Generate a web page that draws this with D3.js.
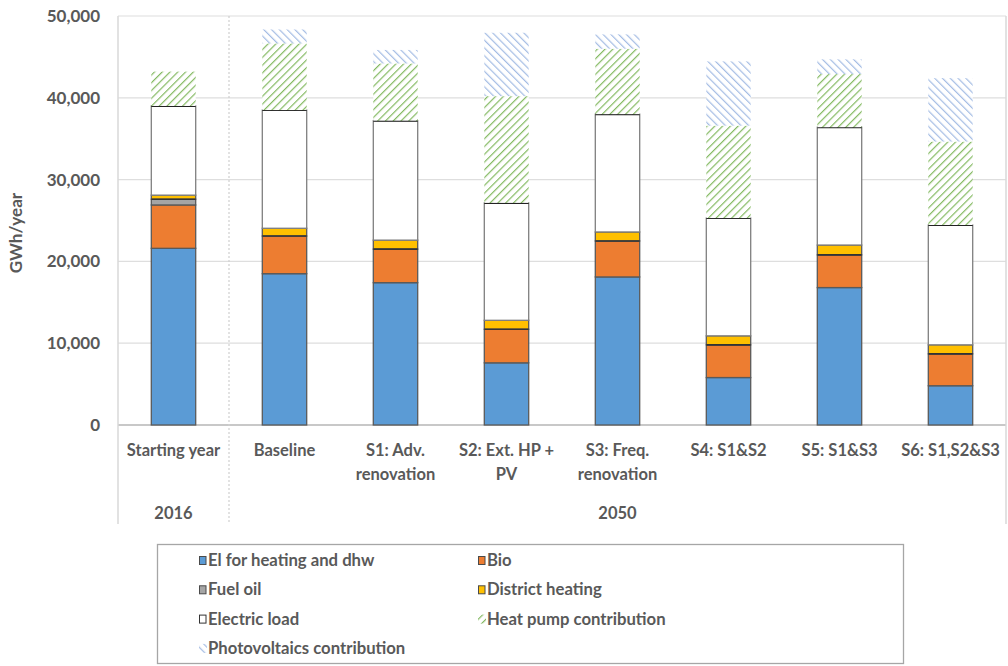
<!DOCTYPE html>
<html>
<head>
<meta charset="utf-8">
<script src="https://cdn.jsdelivr.net/npm/d3@7"></script>
<style>
  html, body { margin: 0; padding: 0; background: #fff; }
  svg { display: block; font-family: Lato, "Open Sans", sans-serif; font-weight: bold; }
</style>
</head>
<body>
<svg id="viz" width="1008" height="666"></svg>
<script>
// categories: [label lines, group]
const categories = [
  ['Starting year'], ['Baseline'], ['S1: Adv.', 'renovation'], ['S2: Ext. HP +', 'PV'],
  ['S3: Freq.', 'renovation'], ['S4: S1&S2'], ['S5: S1&S3'], ['S6: S1,S2&S3']
];
const groups = [{ name: '2016', from: 0, to: 0 }, { name: '2050', from: 1, to: 7 }];

// series values in GWh/year, one per category
const elHeating   = [21600, 18500, 17400, 7600, 18100, 5800, 16800, 4800];
const bio         = [5300, 4600, 4100, 4100, 4400, 4000, 4000, 3900];
const fuelOil     = [700, 0, 0, 0, 0, 0, 0, 0];
const district    = [500, 950, 1100, 1100, 1100, 1100, 1200, 1100];
const electric    = [10900, 14450, 14600, 14350, 14400, 14400, 14400, 14650];
const heatPump    = [4200, 8150, 7000, 13050, 8000, 11300, 6500, 10200];
const photovolt   = [0, 1700, 1650, 7750, 1750, 7850, 1800, 7750];

const yTicks = [0, 10000, 20000, 30000, 40000, 50000];

const series = [
  { name: 'El for heating and dhw', values: elHeating, fill: '#5B9BD5' },
  { name: 'Bio', values: bio, fill: '#ED7D31' },
  { name: 'Fuel oil', values: fuelOil, fill: '#A5A5A5' },
  { name: 'District heating', values: district, fill: '#FFC000' },
  { name: 'Electric load', values: electric, fill: '#FFFFFF' },
  { name: 'Heat pump contribution', values: heatPump, fill: 'url(#hatchHP)', hatch: true },
  { name: 'Photovoltaics contribution', values: photovolt, fill: 'url(#hatchPV)', hatch: true }
];

const svg = d3.select('#viz');
const margin = { left: 118, right: 1006, top: 16, bottom: 425 };
const grey = '#595959';

// patterns
const defs = svg.append('defs');
function hatch(id, color, dir) {
  const p = defs.append('pattern')
    .attr('id', id)
    .attr('patternUnits', 'userSpaceOnUse')
    .attr('width', 5.5).attr('height', 5.5)
    .attr('patternTransform', `rotate(${dir})`);
  p.append('rect').attr('width', 5.5).attr('height', 5.5).attr('fill', '#fff');
  p.append('line')
    .attr('x1', 0).attr('y1', 0).attr('x2', 0).attr('y2', 5.5)
    .attr('stroke', color).attr('stroke-width', 2.4);
}
hatch('hatchHP', '#84BA62', 45);
hatch('hatchPV', '#A4BCE4', -45);

const x = d3.scaleBand()
  .domain(d3.range(categories.length))
  .range([margin.left, margin.right])
  .paddingInner(0.6).paddingOuter(0.3);

const y = d3.scaleLinear().domain([0, 50000]).range([margin.bottom, margin.top]);

// gridlines
svg.append('g')
  .selectAll('line')
  .data(yTicks)
  .join('line')
  .attr('x1', margin.left).attr('x2', margin.right)
  .attr('y1', (d) => y(d)).attr('y2', (d) => y(d))
  .attr('stroke', (d) => d === 0 ? '#c8c8c8' : '#dedede')
  .attr('stroke-width', (d) => d === 0 ? 2 : 1.2);

// frame lines down through the category area
const boundary = (i) => margin.left + i * (margin.right - margin.left) / categories.length;
svg.append('line')
  .attr('x1', margin.left).attr('x2', margin.left)
  .attr('y1', margin.top).attr('y2', 524)
  .attr('stroke', '#d9d9d9').attr('stroke-width', 1.5);
svg.append('line')
  .attr('x1', margin.right).attr('x2', margin.right)
  .attr('y1', margin.top).attr('y2', 524)
  .attr('stroke', '#d9d9d9').attr('stroke-width', 1.5);
svg.append('line')
  .attr('x1', boundary(1)).attr('x2', boundary(1))
  .attr('y1', margin.top).attr('y2', 524)
  .attr('stroke', '#cfcfcf').attr('stroke-width', 1.2)
  .attr('stroke-dasharray', '2,2');

// y axis labels
svg.append('g')
  .selectAll('text')
  .data(yTicks)
  .join('text')
  .attr('x', 100).attr('y', (d) => y(d) + 6)
  .attr('text-anchor', 'end')
  .attr('fill', grey)
  .attr('font-size', 17)
  .text((d) => d3.format(',')(d));

svg.append('text')
  .attr('transform', 'translate(22,233) rotate(-90)')
  .attr('text-anchor', 'middle')
  .attr('fill', grey)
  .attr('font-size', 17)
  .text('GWh/year');

// stacked bars
const stackData = categories.map((c, i) => {
  const row = { i };
  series.forEach((s, k) => { row[k] = s.values[i]; });
  return row;
});
const stacked = d3.stack().keys(series.map((s, k) => k))(stackData);

const layers = svg.append('g')
  .selectAll('g')
  .data(stacked)
  .join('g');

layers.each(function (layer) {
  const s = series[layer.key];
  const g = d3.select(this);
  const segs = layer.filter((d) => d[1] - d[0] > 0);
  g.selectAll('rect')
    .data(segs)
    .join('rect')
    .attr('x', (d) => x(d.data.i))
    .attr('width', x.bandwidth())
    .attr('y', (d) => y(d[1]))
    .attr('height', (d) => y(d[0]) - y(d[1]))
    .attr('fill', s.fill)
    .attr('stroke', s.hatch ? 'none' : (s.name === 'Electric load' ? '#7f7f7f' : '#5a5a5a'))
    .attr('stroke-width', s.hatch ? 0 : 1.3);
  if (s.name === 'Electric load') {
    g.selectAll('line.top')
      .data(segs)
      .join('line')
      .attr('class', 'top')
      .attr('x1', (d) => x(d.data.i)).attr('x2', (d) => x(d.data.i) + x.bandwidth())
      .attr('y1', (d) => y(d[1])).attr('y2', (d) => y(d[1]))
      .attr('stroke', '#222').attr('stroke-width', 2);
  }
  if (s.name === 'District heating') {
    g.selectAll('line.top')
      .data(segs)
      .join('line')
      .attr('class', 'top')
      .attr('x1', (d) => x(d.data.i)).attr('x2', (d) => x(d.data.i) + x.bandwidth())
      .attr('y1', (d) => y(d[0])).attr('y2', (d) => y(d[0]))
      .attr('stroke', '#333').attr('stroke-width', 1.6);
  }
});

// category labels
const catG = svg.append('g');
categories.forEach((lines, i) => {
  const t = catG.append('text')
    .attr('x', x(i) + x.bandwidth() / 2)
    .attr('y', 456)
    .attr('text-anchor', 'middle')
    .attr('fill', grey)
    .attr('font-size', 16.5);
  lines.forEach((l, k) => {
    t.append('tspan')
      .attr('x', x(i) + x.bandwidth() / 2)
      .attr('dy', k === 0 ? 0 : 24)
      .text(l);
  });
});

// group labels
svg.append('g')
  .selectAll('text')
  .data(groups)
  .join('text')
  .attr('x', (d) => (boundary(d.from) + boundary(d.to + 1)) / 2)
  .attr('y', 519)
  .attr('text-anchor', 'middle')
  .attr('fill', grey)
  .attr('font-size', 16.5)
  .text((d) => d.name);

// legend
const legend = svg.append('g');
legend.append('rect')
  .attr('x', 157.5).attr('y', 544.5)
  .attr('width', 746).attr('height', 119)
  .attr('fill', '#fff').attr('stroke', '#a6a6a6').attr('stroke-width', 1.3);

const legendCols = [199, 478];
series.forEach((s, k) => {
  const lx = legendCols[k % 2];
  const ly = 560 + Math.floor(k / 2) * 29.3;
  const item = legend.append('g').attr('transform', `translate(${lx},${ly})`);
  if (s.hatch) {
    item.append('rect')
      .attr('x', 0).attr('y', -4).attr('width', 8).attr('height', 9)
      .attr('fill', s.fill);
  } else {
    item.append('rect')
      .attr('x', 0.5).attr('y', -3.5).attr('width', 6.5).attr('height', 8)
      .attr('fill', s.fill)
      .attr('stroke', s.name === 'Electric load' ? '#333' : '#4a4a4a')
      .attr('stroke-width', 1);
  }
  item.append('text')
    .attr('x', 9).attr('y', 6)
    .attr('fill', grey)
    .attr('font-size', 16.7)
    .text(s.name);
});
</script>
</body>
</html>
